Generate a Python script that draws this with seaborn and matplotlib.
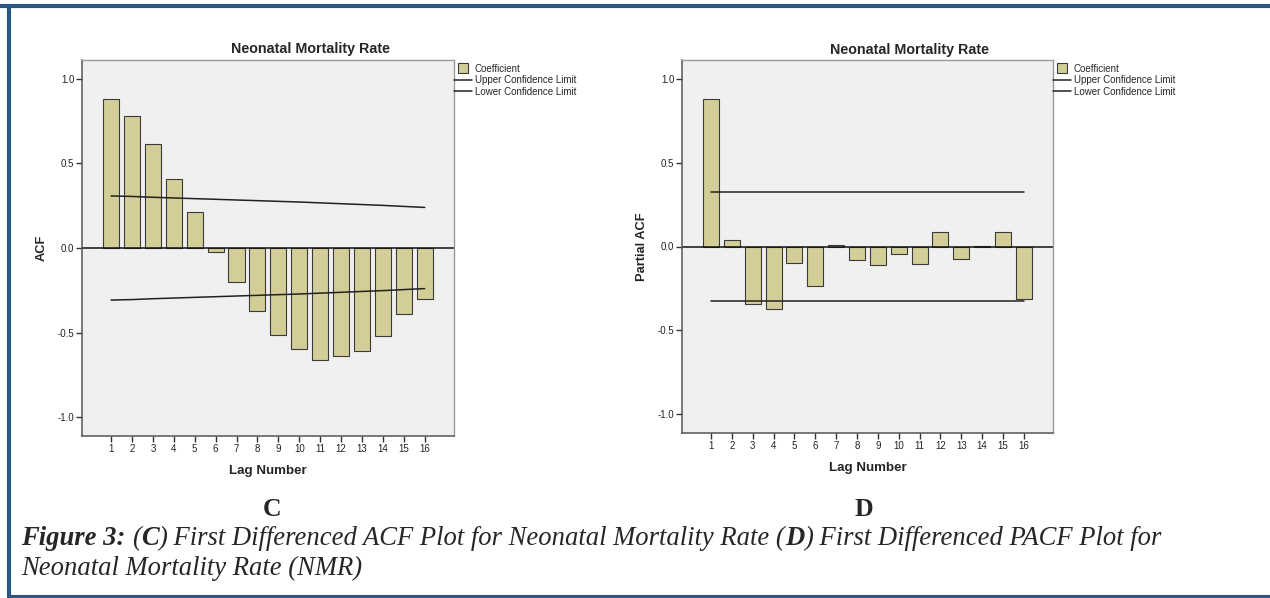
"""
First differenced ACF / PACF plots for neonatal mortality rate, SPSS style
"""
import matplotlib
matplotlib.use("Agg")
import matplotlib.pyplot as plt
from matplotlib.lines import Line2D
import seaborn as sns
import pandas as pd

lags = list(range(1, 17))
acf = [0.881, 0.781, 0.617, 0.407, 0.211, -0.024, -0.204, -0.375,
       -0.513, -0.598, -0.663, -0.641, -0.609, -0.521, -0.390, -0.302]
acf_upper = [0.308, 0.305, 0.300, 0.296, 0.292, 0.288, 0.284, 0.280,
             0.276, 0.272, 0.267, 0.262, 0.257, 0.252, 0.246, 0.240]
acf_lower = [-v for v in acf_upper]
pacf = [0.881, 0.038, -0.345, -0.373, -0.099, -0.235, 0.008, -0.083,
        -0.113, -0.042, -0.107, 0.085, -0.072, 0.002, 0.085, -0.312]
pacf_upper = [0.322] * 16
pacf_lower = [-0.322] * 16

ytick_vals = [-1.0, -0.5, 0.0, 0.5, 1.0]
ytick_labels = ["-1.0", "-0.5", "0.0", "0.5", "1.0"]

bar_color = "#D3CE97"
panel_bg = "#F0F0F0"

sns.set_style("white")
plt.rcParams["font.family"] = ["Liberation Sans", "DejaVu Sans"]
plt.rcParams["axes.unicode_minus"] = False

W, H = 1270, 598
fig = plt.figure(figsize=(W / 100, H / 100), dpi=100)


def px_axes(x0, y0, x1, y1):
    return fig.add_axes([x0 / W, 1 - y1 / H, (x1 - x0) / W, (y1 - y0) / H])


def panel(ax, vals, upper, lower, ylabel, letter, letter_x):
    df = pd.DataFrame({"lag": lags, "coef": vals, "upper": upper, "lower": lower})
    ax.set_facecolor(panel_bg)
    sns.barplot(data=df, x="lag", y="coef", native_scale=True, width=0.77,
                color=bar_color, edgecolor="#3a3a3a", linewidth=0.8,
                saturation=1, ax=ax)
    sns.lineplot(data=df, x="lag", y="upper", color="#222222", lw=1.1, ax=ax)
    sns.lineplot(data=df, x="lag", y="lower", color="#222222", lw=1.1, ax=ax)
    ax.axhline(0, color="#111111", lw=1.1, zorder=1.5)
    ax.set_xlim(-0.39, 17.4)
    ax.set_ylim(-1.112, 1.112)
    ax.set_xticks(lags)
    ax.set_xticklabels([str(l) for l in lags], fontsize=7, color="#222222")
    ax.set_yticks(ytick_vals)
    ax.set_yticklabels(ytick_labels, fontsize=7, color="#222222")
    ax.tick_params(axis="both", direction="out", length=4, width=1,
                   color="#333333", pad=1.5, left=True, bottom=True)
    for side in ["left", "bottom"]:
        ax.spines[side].set_color("#555555")
        ax.spines[side].set_linewidth(1.1)
    for side in ["top", "right"]:
        ax.spines[side].set_color("#9a9a9a")
        ax.spines[side].set_linewidth(1.0)
    ax.set_xlabel("Lag Number", fontsize=9.6, fontweight="bold")
    ax.xaxis.set_label_coords(0.5, -0.077)
    ax.set_ylabel(ylabel, fontsize=9.3, fontweight="bold")
    ax.yaxis.set_label_coords(-0.092, 0.5)
    ax.text(0.613, 1.028, "Neonatal Mortality Rate", transform=ax.transAxes,
            ha="center", va="center", fontsize=10.3, fontweight="bold")
    handles = [
        Line2D([], [], marker="s", ls="none", markersize=7,
               markerfacecolor=bar_color, markeredgecolor="#3a3a3a", mew=0.8),
        Line2D([], [], color="#222222", lw=1.1),
        Line2D([], [], color="#222222", lw=1.1),
    ]
    ax.legend(handles, ["Coefficient", "Upper Confidence Limit", "Lower Confidence Limit"],
              loc="upper left", bbox_to_anchor=(1.0, 0.99), frameon=False,
              fontsize=7, borderpad=0, borderaxespad=0, handlelength=1.9,
              handletextpad=0.25, labelspacing=0.15)
    fig.text(letter_x / W, 1 - 516 / H, letter, family="Liberation Serif",
             fontweight="bold", fontsize=18.5, ha="center", va="baseline")


ax1 = px_axes(82, 60, 454, 436)
panel(ax1, acf, acf_upper, acf_lower, "ACF", "C", 272)
ax2 = px_axes(682, 60, 1053, 433)
panel(ax2, pacf, pacf_upper, pacf_lower, "Partial ACF", "D", 864)

# blue frame (top, left, bottom)
frame = "#2C5784"
fig.add_artist(Line2D([0, 1], [1 - 6 / H] * 2, color=frame, lw=3, transform=fig.transFigure))
fig.add_artist(Line2D([9 / W] * 2, [1 - 6 / H, 1 - 596.5 / H], color=frame, lw=3,
                      transform=fig.transFigure))
fig.add_artist(Line2D([9 / W, 1], [1 - 596.5 / H] * 2, color=frame, lw=3,
                      transform=fig.transFigure))

# caption with mixed styles
renderer = fig.canvas.get_renderer()
cap_kw = dict(family="Liberation Serif", style="italic", fontsize=19.2, va="baseline")


def width_px(s, weight):
    t = fig.text(0, 0, s, fontweight=weight, **cap_kw)
    w = t.get_window_extent(renderer).width
    t.remove()
    return w


space_w = width_px("x x", "normal") - width_px("xx", "normal")

line1 = [("Figure 3:", "bold", True), ("(", "normal", False), ("C", "bold", False),
         (") First Differenced ACF Plot for Neonatal Mortality Rate (", "normal", False),
         ("D", "bold", False), (") First Differenced PACF Plot for", "normal", False)]
x = 21.0
for s, weight, gap in line1:
    t = fig.text(x / W, 1 - 545 / H, s, fontweight=weight, **cap_kw)
    x += t.get_window_extent(renderer).width
    if gap:
        x += space_w
fig.text(21 / W, 1 - 575 / H, "Neonatal Mortality Rate (NMR)", fontweight="normal", **cap_kw)

fig.savefig("out.png", dpi=100)
